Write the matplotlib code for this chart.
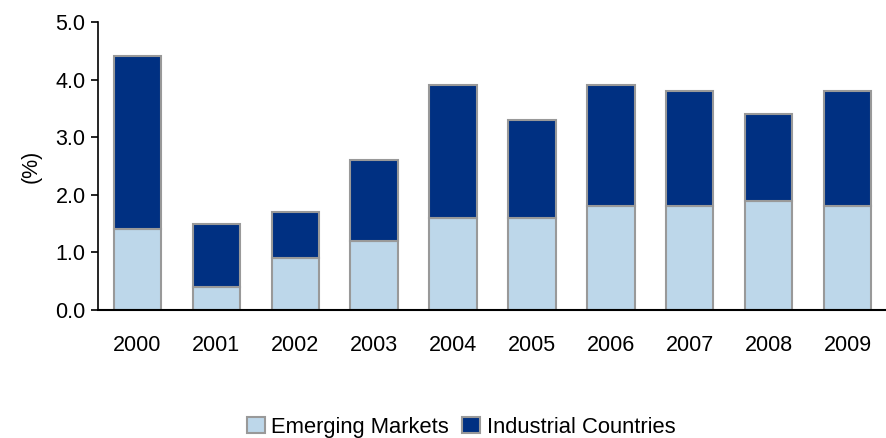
import matplotlib
matplotlib.use('Agg')
import matplotlib.pyplot as plt
import numpy as np

plt.rcParams['font.family'] = ['Liberation Sans', 'DejaVu Sans']

# 数据
years = ['2000', '2001', '2002', '2003', '2004', '2005', '2006', '2007', '2008', '2009']
emerging = [1.4, 0.4, 0.9, 1.2, 1.6, 1.6, 1.8, 1.8, 1.9, 1.8]
industrial = [3.0, 1.1, 0.8, 1.4, 2.3, 1.7, 2.1, 2.0, 1.5, 2.0]
yticks = [0.0, 1.0, 2.0, 3.0, 4.0, 5.0]

fig = plt.figure(figsize=(8.87, 4.38), dpi=100)
ax = fig.add_axes([0.1105, 0.292, 0.8895, 0.658])

x = np.arange(len(years))
ax.bar(x, emerging, width=0.6, color='#BDD7EA', edgecolor='#999999', linewidth=1.5,
       label='Emerging Markets')
ax.bar(x, industrial, width=0.6, bottom=emerging, color='#003082', edgecolor='#999999',
       linewidth=1.5, label='Industrial Countries')

ax.set_xlim(-0.5, 9.5)
ax.set_ylim(0, 5.0)
ax.set_yticks(yticks)
ax.set_yticklabels([f'{v:.1f}' for v in yticks], fontsize=15.5)
ax.set_xticks(x)
ax.set_xticklabels(years, fontsize=15.5)
ax.tick_params(axis='x', length=0, pad=18)
ax.tick_params(axis='y', length=5, width=1.2, direction='out', pad=4)
ax.set_ylabel('(%)', fontsize=15.5, labelpad=10)

ax.spines['top'].set_visible(False)
ax.spines['right'].set_visible(False)
ax.spines['left'].set_linewidth(1.2)
ax.spines['bottom'].set_linewidth(1.5)

fig.legend(loc='center', bbox_to_anchor=(0.52, 0.025), ncol=2, frameon=False,
           fontsize=15.8, handlelength=0.8, handleheight=0.8, handletextpad=0.3,
           columnspacing=0.6)

plt.savefig('out.png', dpi=100)
